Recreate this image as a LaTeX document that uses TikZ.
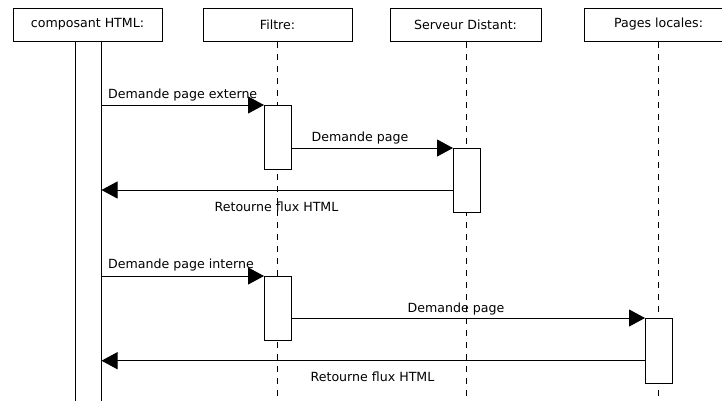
\documentclass[tikz,border=0pt]{standalone}
\usepackage{fontspec}
\setmainfont{DejaVu Sans}
\usetikzlibrary{arrows.meta}
\begin{document}
\begin{tikzpicture}[x=1pt,y=-1pt,
  font=\fontsize{12.6}{14}\selectfont,
  head/.style={draw, line width=1pt, minimum width=149pt, minimum height=33pt, inner sep=0pt, fill=white},
  act/.style={draw, fill=white, line width=1pt, minimum width=27pt, inner sep=0pt, anchor=north west},
  life/.style={line width=1pt, dash pattern=on 6pt off 6pt},
  msg/.style={line width=1pt, -{Triangle[length=16pt,width=17pt]}},
  lbl/.style={inner sep=0pt}]
\useasboundingbox (0,0) rectangle (722,400);
\fill[white] (0,0) rectangle (722,400);
% headers
\node[head] (h1) at (87.5,24.5) {composant HTML:};
\node[head] (h2) at (277.5,24.5) {Filtre:};
\node[head, minimum width=151pt] (h3) at (465.5,24.5) {Serveur Distant:};
\node[head] (h4) at (658.5,24.5) {Pages locales:};
% lifelines
\coordinate (e2) at (277.5,400);
\coordinate (e3) at (466.5,400);
\coordinate (e4) at (658.5,400);
\draw[life] (h2.south) -- (e2);
\draw[life] (h3.south -| e3) -- (e3);
\draw[life] (h4.south) -- (e4);
\node[draw, line width=1pt, minimum width=26pt, minimum height=372pt, inner sep=0pt, anchor=north] (bar) at (88,41) {};
% activations
\node[act, minimum height=64pt] (f1) at (264,105) {};
\node[act, minimum height=64pt] (s1) at (453,148) {};
\node[act, minimum height=64pt] (f2) at (264,276) {};
\node[act, minimum height=65pt] (p1) at (645,318) {};
% messages
\coordinate (r1) at (453,190);
\coordinate (r2) at (645,360.7);
\draw[msg] (bar.east |- f1.north west) -- (f1.north west);
\draw[msg] (f1.east |- s1.north west) -- (s1.north west);
\draw[msg] (s1.west |- r1) -- (bar.east |- r1);
\draw[msg] (bar.east |- f2.north west) -- (f2.north west);
\draw[msg] (f2.east |- p1.north west) -- (p1.north west);
\draw[msg] (p1.west |- r2) -- (bar.east |- r2);
% labels
\node[lbl, anchor=base west] (l1) at (108,98.5) {Demande page externe};
\node[lbl, anchor=base] (l2) at (360,141) {Demande page};
\node[lbl, anchor=base] (l3) at (276.5,211.7) {Retourne flux HTML};
\node[lbl, anchor=base west] (l4) at (108,268.3) {Demande page interne};
\node[lbl, anchor=base] (l5) at (456,312.7) {Demande page};
\node[lbl, anchor=base] (l6) at (372.5,381) {Retourne flux HTML};
\end{tikzpicture}
\end{document}
